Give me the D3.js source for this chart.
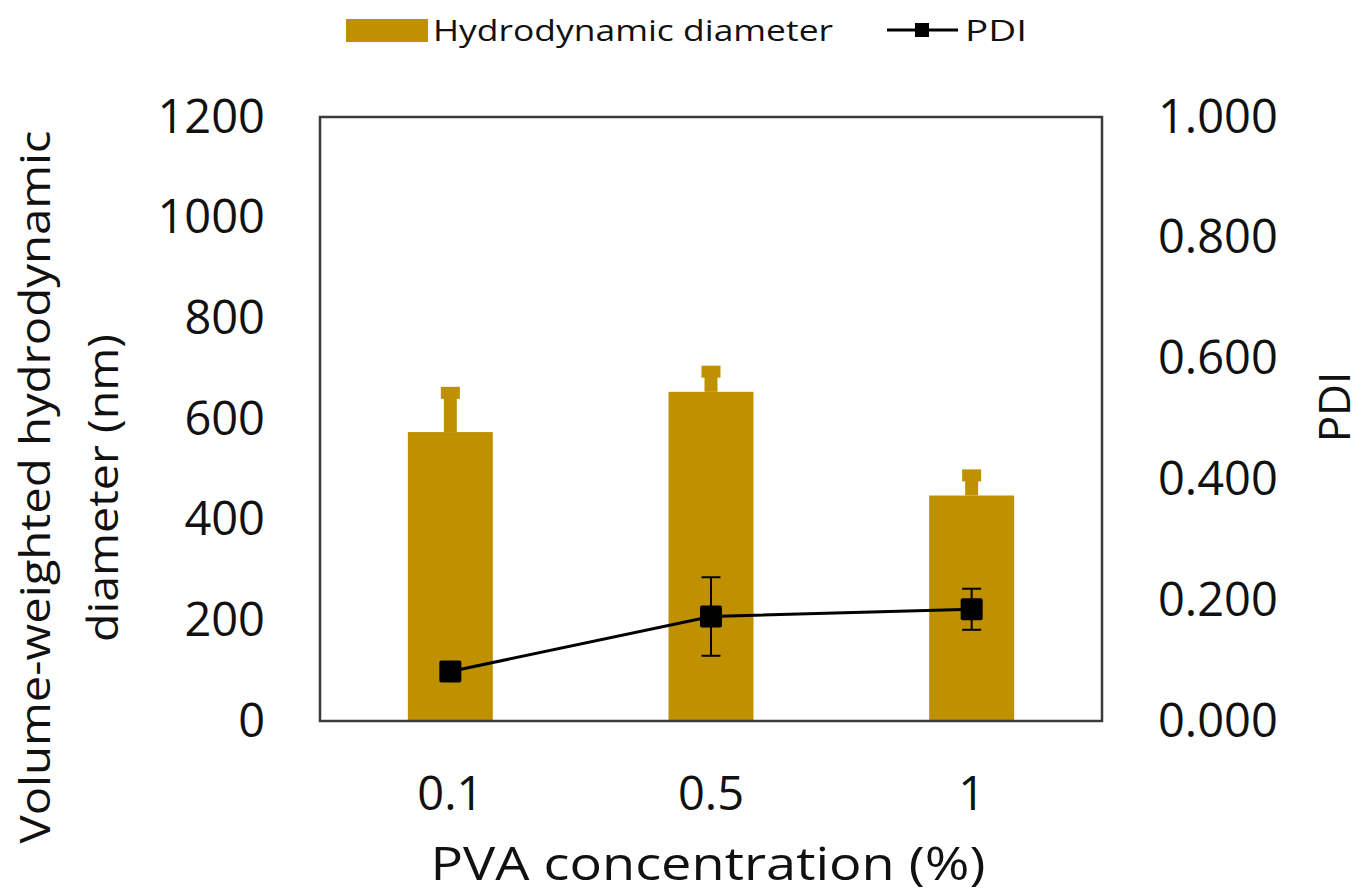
<!DOCTYPE html>
<html>
<head>
<meta charset="utf-8">
<script src="https://cdn.jsdelivr.net/npm/d3@7"></script>
<style>
  body { margin: 0; background: #fff; }
  svg text { font-family: "Open Sans", sans-serif; fill: #111; }
</style>
</head>
<body>
<svg id="chart" width="1370" height="894"></svg>
<script>
// data
const categories = ["0.1", "0.5", "1"];
const diameter = [574, 654, 448];
const diameterErr = [78, 40, 40];
const pdi = [0.082, 0.173, 0.185];
const pdiErr = [0, 0.065, 0.034];
const leftTicks = [0, 200, 400, 600, 800, 1000, 1200];
const rightTicks = [0, 0.2, 0.4, 0.6, 0.8, 1.0];

const gold = "#BF9000";

var svg = d3.select("#chart");
const margin = { top: 117, right: 268, bottom: 173, left: 320 };
const width = 1370 - margin.left - margin.right;
const height = 894 - margin.top - margin.bottom;

var x = d3.scaleBand()
    .domain(categories)
    .range([margin.left, margin.left + width])
    .paddingInner(0.674)
    .paddingOuter(0.337);
var yLeft = d3.scaleLinear().domain([0, 1200]).range([margin.top + height, margin.top]);
var yRight = d3.scaleLinear().domain([0, 1]).range([margin.top + height, margin.top]);
const cx = d => x(d) + x.bandwidth() / 2;

// bars
svg.append("g").selectAll("rect")
    .data(categories)
    .join("rect")
    .attr("x", d => x(d))
    .attr("width", x.bandwidth())
    .attr("y", (d, i) => yLeft(diameter[i]))
    .attr("height", (d, i) => yLeft(0) - yLeft(diameter[i]))
    .attr("fill", gold);

// bar error bars (upper only, thick gold)
var be = svg.append("g");
be.selectAll("line.stem")
    .data(categories)
    .join("line")
    .attr("class", "stem")
    .attr("x1", cx).attr("x2", cx)
    .attr("y1", (d, i) => yLeft(diameter[i]))
    .attr("y2", (d, i) => yLeft(diameter[i] + diameterErr[i]))
    .attr("stroke", gold)
    .attr("stroke-width", 13);
be.selectAll("line.cap")
    .data(categories)
    .join("line")
    .attr("class", "cap")
    .attr("x1", d => cx(d) - 9.5).attr("x2", d => cx(d) + 9.5)
    .attr("y1", (d, i) => yLeft(diameter[i] + diameterErr[i]))
    .attr("y2", (d, i) => yLeft(diameter[i] + diameterErr[i]))
    .attr("stroke", gold)
    .attr("stroke-width", 12);

// frame
svg.append("rect")
    .attr("x", margin.left).attr("y", margin.top)
    .attr("width", width).attr("height", height)
    .attr("fill", "none")
    .attr("stroke", "#3a3a3a")
    .attr("stroke-width", 2.5);

// PDI line
var line = d3.line()
    .x((d, i) => cx(categories[i]))
    .y(d => yRight(d));
svg.append("path")
    .datum(pdi)
    .attr("d", line)
    .attr("fill", "none")
    .attr("stroke", "#000")
    .attr("stroke-width", 3);

// PDI error bars
var pe = svg.append("g").attr("stroke", "#000").attr("stroke-width", 2);
categories.forEach((c, i) => {
    if (!pdiErr[i]) return;
    const lo = yRight(pdi[i] - pdiErr[i]), hi = yRight(pdi[i] + pdiErr[i]);
    pe.append("line").attr("x1", cx(c)).attr("x2", cx(c)).attr("y1", lo).attr("y2", hi);
    pe.append("line").attr("x1", cx(c) - 9.5).attr("x2", cx(c) + 9.5).attr("y1", lo).attr("y2", lo);
    pe.append("line").attr("x1", cx(c) - 9.5).attr("x2", cx(c) + 9.5).attr("y1", hi).attr("y2", hi);
});

// PDI markers
svg.append("g").selectAll("rect")
    .data(categories)
    .join("rect")
    .attr("x", d => cx(d) - 11)
    .attr("y", (d, i) => yRight(pdi[i]) - 11)
    .attr("width", 22).attr("height", 22)
    .attr("rx", 2)
    .attr("fill", "#000");

// axes (labels only, no tick marks)
var leftAxis = svg.append("g")
    .attr("transform", `translate(${margin.left - 55},0)`)
    .call(d3.axisLeft(yLeft).tickValues(leftTicks).tickFormat(d3.format("d")).tickSize(0).tickPadding(0));
leftAxis.select(".domain").remove();
leftAxis.selectAll("text").style("font-size", "47px").attr("font-family", null);

var rightAxis = svg.append("g")
    .attr("transform", `translate(${margin.left + width + 56},0)`)
    .call(d3.axisRight(yRight).tickValues(rightTicks).tickFormat(d3.format(".3f")).tickSize(0).tickPadding(0));
rightAxis.select(".domain").remove();
rightAxis.selectAll("text").style("font-size", "47px").attr("font-family", null);

var bottomAxis = svg.append("g")
    .attr("transform", `translate(0,${margin.top + height + 56})`)
    .call(d3.axisBottom(x).tickSize(0).tickPadding(0));
bottomAxis.select(".domain").remove();
bottomAxis.selectAll("text").style("font-size", "47px").attr("font-family", null);

// axis titles
svg.append("text")
    .attr("transform", "translate(50,487) rotate(-90)")
    .attr("text-anchor", "middle")
    .attr("textLength", 713)
    .attr("lengthAdjust", "spacingAndGlyphs")
    .style("font-size", "42px")
    .text("Volume-weighted hydrodynamic");
svg.append("text")
    .attr("transform", "translate(118,488) rotate(-90)")
    .attr("text-anchor", "middle")
    .attr("textLength", 308)
    .attr("lengthAdjust", "spacingAndGlyphs")
    .style("font-size", "42px")
    .text("diameter (nm)");
svg.append("text")
    .attr("transform", "translate(1350,407) rotate(-90)")
    .attr("text-anchor", "middle")
    .style("font-size", "44px")
    .text("PDI");
svg.append("text")
    .attr("x", 708).attr("y", 880)
    .attr("text-anchor", "middle")
    .attr("textLength", 555)
    .attr("lengthAdjust", "spacingAndGlyphs")
    .style("font-size", "46px")
    .text("PVA concentration (%)");

// legend
var legend = svg.append("g");
legend.append("rect")
    .attr("x", 346).attr("y", 19).attr("width", 82).attr("height", 23)
    .attr("fill", gold);
legend.append("text")
    .attr("x", 433).attr("y", 41)
    .attr("textLength", 400)
    .attr("lengthAdjust", "spacingAndGlyphs")
    .style("font-size", "30px")
    .text("Hydrodynamic diameter");
legend.append("line")
    .attr("x1", 887).attr("x2", 958).attr("y1", 30).attr("y2", 30)
    .attr("stroke", "#000").attr("stroke-width", 3);
legend.append("rect")
    .attr("x", 915).attr("y", 23).attr("width", 14).attr("height", 14)
    .attr("fill", "#000");
legend.append("text")
    .attr("x", 965).attr("y", 41)
    .attr("textLength", 62)
    .attr("lengthAdjust", "spacingAndGlyphs")
    .style("font-size", "30px")
    .text("PDI");
</script>
</body>
</html>
